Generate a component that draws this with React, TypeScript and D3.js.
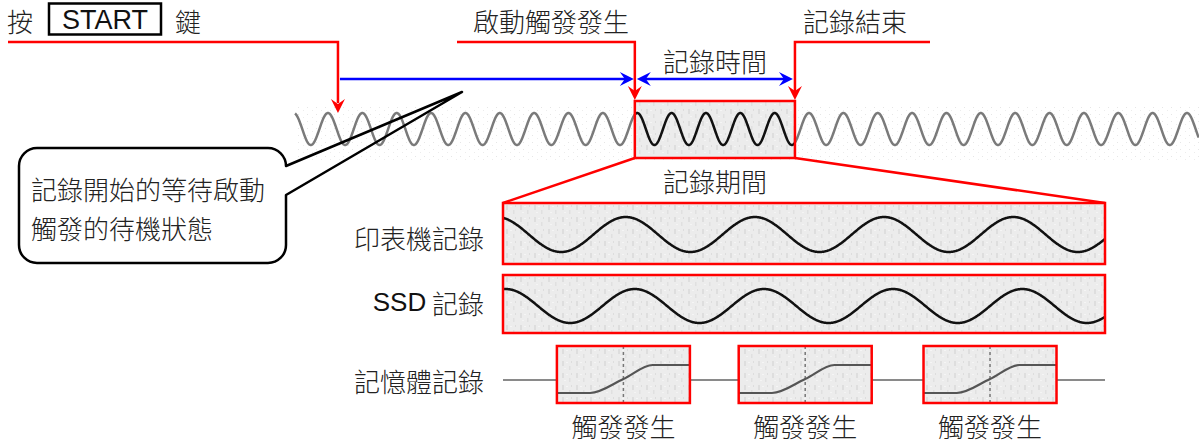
import React from "react";
import * as d3 from "d3";

// ---- data ----
const crestIndex = [0, 25]; // first and last visible crest index of the live signal
const eventTimes = [0.29, 8.93, 13.59]; // START pressed, trigger, record end (in signal cycles)
const eventLabels = ["按", "啟動觸發發生", "記錄結束"];
const startKey = "START";
const keySuffix = "鍵";
const spanLabels = ["記錄時間", "記錄期間"];
const rowLabels = ["印表機記錄", "SSD", "記錄", "記憶體記錄"];
const rowPhases = [-0.12, -0.05];
const memTriggers = [0.2, 0.502, 0.809];
const memLabel = "觸發發生";
const stepX = [0, 0.25, 0.5, 0.72, 1];
const stepY = [0, 0, 0.5, 1, 1];
const bubbleLines = ["記錄開始的等待啟動", "觸發的待機狀態"];

const CJK = '"Noto Sans CJK TC", "Noto Sans CJK SC", sans-serif';
const LAT = '"Liberation Sans", Arial, sans-serif';
const RED = "#ff0000";
const BLUE = "#0000ff";
const TXT = "#222";
const FW = 300;

function arrowHead(x: number, y: number, angle: number, color: string, key: string) {
  return (
    <path
      key={key}
      d="M0,0 L-14,-7 L-9,0 L-14,7 Z"
      fill={color}
      transform={`translate(${x},${y}) rotate(${angle})`}
    />
  );
}

export default function App() {
  const W = 1199;
  const H = 442;
  const xTop = d3.scaleLinear().domain(crestIndex).range([328, 1187]);
  const [tStart, tTrig, tEnd] = eventTimes;

  // top signal
  const topCy = 129;
  const topAmp = 16;
  const line = d3.line<[number, number]>().x((d) => d[0]).y((d) => d[1]);
  const sig = (c: number) => topCy - topAmp * Math.cos(2 * Math.PI * c);
  const cFrom = xTop.invert(295);
  const cTo = xTop.invert(1199);
  const grayPts: [number, number][] = d3.range(cFrom, cTo, 0.01).map((c) => [xTop(c), sig(c)]);
  const blackPts: [number, number][] = d3
    .range(tTrig, tEnd + 0.001, 0.01)
    .map((c) => [xTop(Math.min(c, tEnd)), sig(Math.min(c, tEnd))]);

  const xs = xTop(tStart);
  const xt = xTop(tTrig);
  const xe = xTop(tEnd);
  const boxTop = 101;
  const boxBot = 158;

  // expanded record
  const xRec = d3.scaleLinear().domain([tTrig, tEnd]).range([503, 1105]);
  const rows = [
    { top: 203, bot: 264, cy: 234.5, amp: 17.5, phase: rowPhases[0] },
    { top: 275, bot: 333, cy: 306, amp: 17, phase: rowPhases[1] },
  ];

  const xMem = d3.scaleLinear().domain([0, 1]).range([503, 1105]);
  const memY = 380;
  const mHalf = 66.5;
  const mTop = 346;
  const mBot = 403;
  const stepLine = d3
    .line<number>()
    .x((_, i) => stepX[i])
    .y((_, i) => stepY[i])
    .curve(d3.curveMonotoneX);

  const fs = 26;

  return (
    <svg
      width={W}
      height={H}
      style={{ position: "absolute", left: 0, top: 0, background: "#fff" }}
      fontFamily={CJK}
      fontWeight={FW}
    >
      <defs>
        <pattern id="tex" width="14" height="12" patternUnits="userSpaceOnUse">
          <rect width="14" height="12" fill="#ececec" />
          <rect x="2" y="1" width="2" height="5" fill="#dedede" />
          <rect x="9" y="6" width="1.5" height="4" fill="#e0e0e0" />
          <rect x="6" y="2" width="2" height="1" fill="#f5f5f5" />
          <rect x="11" y="1" width="1" height="2" fill="#dddddd" />
          <rect x="4" y="8" width="2" height="1" fill="#f4f4f4" />
        </pattern>
        <pattern id="speck" width="9" height="7" patternUnits="userSpaceOnUse">
          <rect x="1" y="2" width="1" height="1" fill="#e6e6e6" />
          <rect x="6" y="5" width="1" height="1" fill="#ececec" />
        </pattern>
      </defs>

      {/* faint background speckle */}
      <rect x={295} y={104} width={904} height={58} fill="url(#speck)" />

      {/* top key label */}
      <text x={7} y={20} fontSize={fs} fill={TXT} dominantBaseline="central">
        {eventLabels[0]}
      </text>
      <rect x={49} y={3.5} width={112} height={31} fill="none" stroke="#000" strokeWidth={2.5} />
      <text x={105} y={20} fontSize={27} fontFamily={LAT} fontWeight={400} fill="#111" textAnchor="middle" dominantBaseline="central">
        {startKey}
      </text>
      <text x={175} y={20} fontSize={fs} fill={TXT} dominantBaseline="central">
        {keySuffix}
      </text>

      <text x={551} y={20} fontSize={fs} fill={TXT} textAnchor="middle" dominantBaseline="central">
        {eventLabels[1]}
      </text>
      <text x={855} y={20} fontSize={fs} fill={TXT} textAnchor="middle" dominantBaseline="central">
        {eventLabels[2]}
      </text>
      <text x={(xt + xe) / 2} y={60} fontSize={fs} fill={TXT} textAnchor="middle" dominantBaseline="central">
        {spanLabels[0]}
      </text>

      {/* signal */}
      <path d={line(grayPts) || ""} fill="none" stroke="#7a7a7a" strokeWidth={2.5} />

      {/* record box */}
      <rect x={xt} y={boxTop} width={xe - xt} height={boxBot - boxTop} fill="url(#tex)" />
      <path d={line(blackPts) || ""} fill="none" stroke="#111" strokeWidth={2.5} />
      <rect x={xt} y={boxTop} width={xe - xt} height={boxBot - boxTop} fill="none" stroke={RED} strokeWidth={2.5} />

      {/* red event lines */}
      <path d={`M8,42 H${xs} V103`} fill="none" stroke={RED} strokeWidth={2.5} />
      {arrowHead(xs, 113, 90, RED, "a1")}
      <path d={`M457,42 H${xt} V91`} fill="none" stroke={RED} strokeWidth={2.5} />
      {arrowHead(xt, 100, 90, RED, "a2")}
      <path d={`M930,42 H${xe} V91`} fill="none" stroke={RED} strokeWidth={2.5} />
      {arrowHead(xe, 100, 90, RED, "a3")}

      {/* blue arrows */}
      <line x1={xs + 2} y1={79} x2={xt - 8} y2={79} stroke={BLUE} strokeWidth={2.5} />
      {arrowHead(xt - 1, 79, 0, BLUE, "b1")}
      <line x1={xt + 10} y1={79} x2={xe - 10} y2={79} stroke={BLUE} strokeWidth={2.5} />
      {arrowHead(xt + 2, 79, 180, BLUE, "b2")}
      {arrowHead(xe - 2, 79, 0, BLUE, "b3")}

      {/* zoom lines */}
      <line x1={xt} y1={boxBot} x2={xRec(tTrig)} y2={rows[0].top} stroke={RED} strokeWidth={2.5} />
      <line x1={xe} y1={boxBot} x2={xRec(tEnd)} y2={rows[0].top} stroke={RED} strokeWidth={2.5} />
      <text x={(xt + xe) / 2} y={180} fontSize={fs} fill={TXT} textAnchor="middle" dominantBaseline="central">
        {spanLabels[1]}
      </text>

      {/* printer & SSD rows */}
      {rows.map((r, i) => {
        const pts: [number, number][] = d3
          .range(tTrig, tEnd + 0.001, 0.005)
          .map((c) => {
            const cc = Math.min(c, tEnd);
            return [xRec(cc), r.cy - r.amp * Math.cos(2 * Math.PI * (cc - r.phase))];
          });
        return (
          <g key={i}>
            <rect x={xRec(tTrig)} y={r.top} width={xRec(tEnd) - xRec(tTrig)} height={r.bot - r.top} fill="url(#tex)" />
            <path d={line(pts) || ""} fill="none" stroke="#111" strokeWidth={2.5} />
            <rect
              x={xRec(tTrig)}
              y={r.top}
              width={xRec(tEnd) - xRec(tTrig)}
              height={r.bot - r.top}
              fill="none"
              stroke={RED}
              strokeWidth={2.5}
            />
          </g>
        );
      })}
      <text x={484} y={237} fontSize={fs} fill={TXT} textAnchor="end" dominantBaseline="central">
        {rowLabels[0]}
      </text>
      <text x={484} y={302} fontSize={fs} fill={TXT} textAnchor="end" dominantBaseline="central">
        <tspan fontFamily={LAT} fontWeight={400} fontSize={26} fill="#111">
          {rowLabels[1]}
        </tspan>
        <tspan> {rowLabels[2]}</tspan>
      </text>
      <text x={484} y={380} fontSize={fs} fill={TXT} textAnchor="end" dominantBaseline="central">
        {rowLabels[3]}
      </text>

      {/* memory row */}
      <line x1={xMem(0)} y1={memY} x2={xMem(1)} y2={memY} stroke="#8a8a8a" strokeWidth={1.8} />
      {memTriggers.map((t, i) => {
        const cx = xMem(t);
        const x0 = cx - mHalf;
        const w = mHalf * 2;
        const lowY = 393;
        const highY = 365;
        const d = stepLine(stepX.map((_, k) => k)) || "";
        return (
          <g key={i}>
            <rect x={x0} y={mTop} width={w} height={mBot - mTop} fill="url(#tex)" />
            <line x1={cx} y1={mTop} x2={cx} y2={mBot} stroke="#777" strokeWidth={1.5} strokeDasharray="3,3" />
            <g transform={`translate(${x0},${lowY}) scale(${w},${highY - lowY})`}>
              <path d={d} fill="none" stroke="#555" strokeWidth={2.2} vectorEffect="non-scaling-stroke" />
            </g>
            <rect x={x0} y={mTop} width={w} height={mBot - mTop} fill="none" stroke={RED} strokeWidth={2.5} />
            <text x={cx} y={425} fontSize={fs} fill={TXT} textAnchor="middle" dominantBaseline="central">
              {memLabel}
            </text>
          </g>
        );
      })}

      {/* speech bubble */}
      <rect x={19} y={148} width={267} height={115} rx={18} fill="#fff" />
      <path
        d="M37,148 H268 A18,18 0 0 1 286,166 L462,92 L286,195 V245 A18,18 0 0 1 268,263 H37 A18,18 0 0 1 19,245 V166 A18,18 0 0 1 37,148 Z"
        fill="none"
        stroke="#000"
        strokeWidth={2.5}
        strokeLinejoin="round"
      />
      {bubbleLines.map((s, i) => (
        <text key={i} x={31} y={188 + i * 39} fontSize={26} fill={TXT} dominantBaseline="central">
          {s}
        </text>
      ))}
    </svg>
  );
}
